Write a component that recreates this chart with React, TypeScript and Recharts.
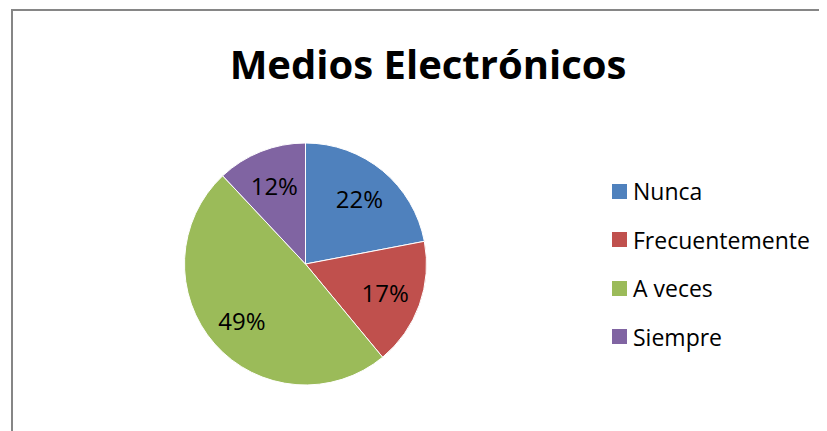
import { Legend, Pie, PieChart, Cell } from "recharts";

const categories = ["Nunca", "Frecuentemente", "A veces", "Siempre"];
const shares = [22, 17, 49, 12];
const COLORS = ["#4F81BD", "#C0504D", "#9BBB59", "#8064A2"];

const data = categories.map((name, i) => ({ name, value: shares[i] }));

const FONT = "'Open Sans', sans-serif";
const RAD = Math.PI / 180;

// étiquette au ~70% du rayon, comme dans Excel
const renderLabel = (props: any) => {
  const { cx, cy, midAngle, outerRadius, value } = props;
  const r = outerRadius * 0.7;
  const x = cx + r * Math.cos(-midAngle * RAD);
  const y = cy + r * Math.sin(-midAngle * RAD);
  return (
    <text
      x={x}
      y={y}
      fill="#000"
      fontSize={24}
      fontFamily={FONT}
      textAnchor="middle"
      dominantBaseline="central"
    >
      {`${value}%`}
    </text>
  );
};

export default function App() {
  return (
    <div
      style={{
        position: "relative",
        left: 3,
        top: 1,
        width: 840,
        height: 440,
        boxSizing: "border-box",
        border: "2px solid #868686",
        background: "#fff",
        fontFamily: FONT,
      }}
    >
      <style>{"html,body{overflow:hidden}"}</style>
      <div
        style={{
          position: "absolute",
          left: 0,
          width: 830,
          top: 33,
          textAlign: "center",
          fontSize: 40,
          fontWeight: 700,
          lineHeight: 1,
          color: "#000",
          zIndex: 1,
        }}
      >
        Medios Electrónicos
      </div>
      <PieChart
        width={836}
        height={436}
        margin={{ top: 0, right: 0, bottom: 0, left: 0 }}
      >
        <Pie
          data={data}
          dataKey="value"
          nameKey="name"
          cx={292.5}
          cy={253}
          outerRadius={121}
          startAngle={90}
          endAngle={-270}
          stroke="#fff"
          strokeWidth={1}
          labelLine={false}
          label={renderLabel}
          isAnimationActive={false}
        >
          {data.map((entry, index) => (
            <Cell key={entry.name} fill={COLORS[index]} />
          ))}
        </Pie>
        <Legend
          layout="vertical"
          verticalAlign="top"
          align="right"
          wrapperStyle={{ left: 599, top: 156, width: 230 }}
          content={() => (
            <ul style={{ margin: 0, padding: 0, listStyle: "none" }}>
              {data.map((entry, index) => (
                <li
                  key={`item-${index}`}
                  style={{
                    display: "flex",
                    alignItems: "center",
                    height: 48.5,
                  }}
                >
                  <span
                    style={{
                      width: 15,
                      height: 15,
                      background: COLORS[index],
                      marginRight: 6,
                    }}
                  />
                  <span style={{ fontSize: 23, color: "#000" }}>
                    {entry.name}
                  </span>
                </li>
              ))}
            </ul>
          )}
        />
      </PieChart>
    </div>
  );
}
